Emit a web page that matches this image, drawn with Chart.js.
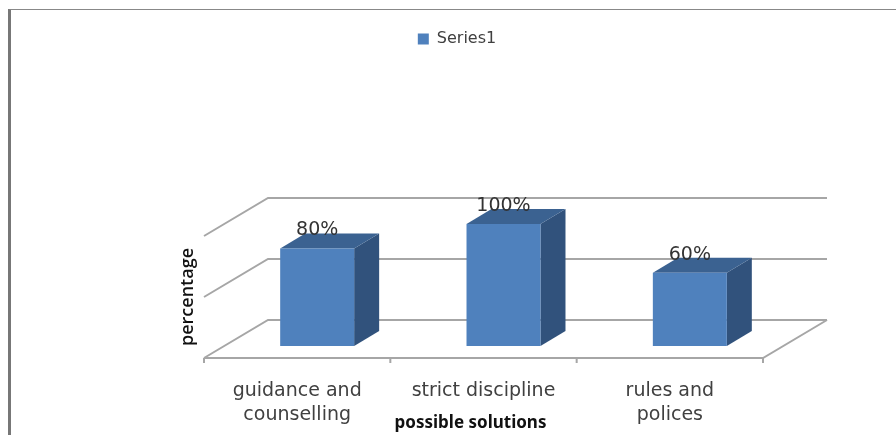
<!DOCTYPE html>
<html>
<head>
<meta charset="utf-8">
<style>
    html, body { margin: 0; padding: 0; background: #fff; overflow: hidden; }
    #frame {
        position: absolute; left: 8px; top: 9px; width: 888px; height: 426px;
        border-left: 3px solid #777; border-top: 1px solid #888; box-sizing: border-box;
    }
    #chart { position: absolute; left: 0; top: 0; }
</style>
<script src="https://cdn.jsdelivr.net/npm/chart.js@4/dist/chart.umd.min.js"></script>
</head>
<body>
<div id="frame"></div>
<canvas id="chart" width="896" height="435"></canvas>
<script>
    const categories = [["guidance and", "counselling"], ["strict discipline"], ["rules and", "polices"]];
    const percentages = [80, 100, 60];
    const gridValues = [0, 50, 100];
    const seriesName = "Series1";
    const xAxisName = "possible solutions";
    const yAxisName = "percentage";

    // Fake 3D: floor depth, and how far the bars sit inside the floor
    const DEPTH = { x: 64, y: -38 };
    const BAR_INSET = { x: 20, y: -12 };
    const BAR_DEPTH = { x: 25, y: -15 };
    const WIDE = "'DejaVu Sans', sans-serif";
    const NARROW = "'Open Sans', sans-serif";

    const poly = (ctx, pts, fill) => {
        ctx.beginPath();
        pts.forEach((p, i) => i ? ctx.lineTo(p[0], p[1]) : ctx.moveTo(p[0], p[1]));
        ctx.closePath();
        ctx.fillStyle = fill;
        ctx.fill();
    };

    const wall3d = {
        id: "wall3d",
        beforeInit(chart) {
            // Leave the empty band under the legend
            const fit = chart.legend.fit;
            chart.legend.fit = function () {
                fit.call(this);
                this.height = 236;
            };
        },
        beforeDatasetsDraw(chart) {
            const { ctx, chartArea: a, scales: { y } } = chart;
            ctx.save();
            ctx.strokeStyle = "#a6a6a6";
            ctx.lineWidth = 2;

            // Side wall and back wall grid lines
            gridValues.forEach(v => {
                const py = y.getPixelForValue(v);
                ctx.beginPath();
                ctx.moveTo(a.left, py);
                ctx.lineTo(a.left + DEPTH.x, py + DEPTH.y);
                ctx.lineTo(a.right + DEPTH.x, py + DEPTH.y);
                ctx.stroke();
            });

            // Floor front edge, right edge and tick marks
            ctx.beginPath();
            ctx.moveTo(a.left, a.bottom);
            ctx.lineTo(a.right, a.bottom);
            ctx.lineTo(a.right + DEPTH.x, a.bottom + DEPTH.y);
            const step = (a.right - a.left) / categories.length;
            for (let i = 0; i <= categories.length; i++) {
                ctx.moveTo(a.left + i * step, a.bottom);
                ctx.lineTo(a.left + i * step, a.bottom + 5);
            }
            ctx.stroke();

            // Side and top faces of each bar, then shift so the library draws the front face inside the floor
            ctx.translate(BAR_INSET.x, BAR_INSET.y);
            chart.getDatasetMeta(0).data.forEach(bar => {
                const l = bar.x - bar.width / 2, r = bar.x + bar.width / 2;
                const dx = BAR_DEPTH.x, dy = BAR_DEPTH.y;
                poly(ctx, [[r, bar.y], [r + dx, bar.y + dy], [r + dx, bar.base + dy], [r, bar.base]], "#31527c");
                poly(ctx, [[l, bar.y], [l + dx, bar.y + dy], [r + dx, bar.y + dy], [r, bar.y]], "#3b6291");
            });
        },
        afterDatasetsDraw(chart) {
            const { ctx, chartArea: a } = chart;
            ctx.restore();

            ctx.save();
            ctx.textAlign = "center";
            ctx.textBaseline = "middle";

            // Value labels above the bars
            ctx.font = "19px " + WIDE;
            ctx.fillStyle = "#333";
            chart.getDatasetMeta(0).data.forEach((bar, i) => {
                ctx.fillText(percentages[i] + "%", bar.x + BAR_INSET.x, bar.y + BAR_INSET.y - 18);
            });

            // Axis name sits a little left of the axis centre
            ctx.font = "bold 17px 'Noto Sans', sans-serif";
            ctx.fillStyle = "#111";
            ctx.fillText(xAxisName, (a.left + a.right) / 2 - 13, 423);
            ctx.restore();
        }
    };

    new Chart(document.getElementById("chart"), {
        type: "bar",
        data: {
            labels: categories,
            datasets: [{
                label: seriesName,
                data: percentages,
                backgroundColor: "#4f81bd",
                barPercentage: 0.397,
                categoryPercentage: 1
            }]
        },
        options: {
            responsive: false,
            animation: false,
            layout: { padding: { left: 18, right: 0, top: 0, bottom: 0 } },
            plugins: {
                tooltip: { enabled: false },
                legend: {
                    position: "top",
                    labels: {
                        boxWidth: 11, boxHeight: 11, padding: 31,
                        color: "#404040",
                        font: { family: WIDE, size: 16 }
                    }
                }
            },
            scales: {
                x: {
                    afterFit: s => { s.height = 77; },
                    grid: { display: false },
                    border: { display: false },
                    ticks: { color: "#404040", font: { family: WIDE, size: 19, lineHeight: 1.26 }, maxRotation: 0, padding: 13 }
                },
                y: {
                    min: 0, max: 100,
                    afterFit: s => { s.width = 186; },
                    grid: { display: false },
                    border: { display: false },
                    ticks: { display: false },
                    title: { display: true, text: yAxisName, color: "#111", font: { family: NARROW, size: 18, weight: "600" }, padding: { top: 159, bottom: 0 } }
                },
                // Keeps the empty margin on the right of the floor
                spacer: {
                    position: "right",
                    afterFit: s => { s.width = 133; },
                    grid: { display: false },
                    border: { display: false },
                    ticks: { display: false }
                }
            }
        },
        plugins: [wall3d]
    });
</script>
</body>
</html>
